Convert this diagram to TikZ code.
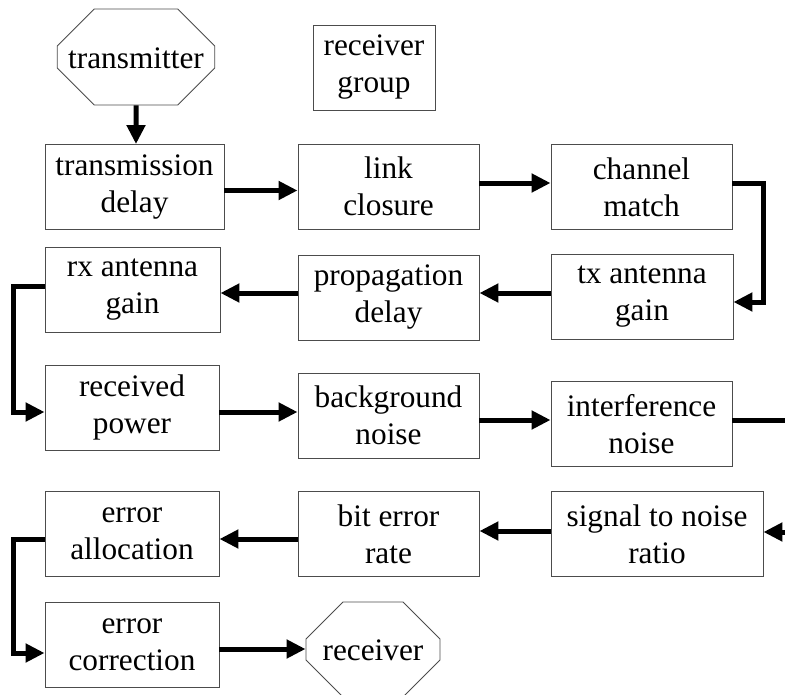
\documentclass[tikz,border=0pt]{standalone}
\usepackage{fontspec}
\setmainfont{Liberation Serif}
\usetikzlibrary{arrows.meta,shapes.misc}

\newcommand{\blockfont}{\fontsize{31.3}{37}\selectfont}

\tikzset{
  block/.style={draw=black!70, line width=0.9pt, rectangle, minimum height=85pt, inner sep=0pt,
    align=center, font=\blockfont},
  terminal/.style={draw=black!70, line width=0.9pt, chamfered rectangle,
    chamfered rectangle xsep=26pt, chamfered rectangle ysep=26pt, inner sep=0pt,
    text height=22pt, text depth=0pt, font=\blockfont},
  flow/.style={line width=5pt, -{Triangle[length=19pt,width=18pt]}},
}

\begin{document}
\begin{tikzpicture}[x=1pt,y=-1pt]
    \useasboundingbox (0,0) rectangle (785,694);
    % top row
    \node[terminal, minimum width=152pt, minimum height=96pt] (transmitter) at (136,57) {transmitter};
    \node[block, minimum width=122pt] (rxgroup) at (374,67.5) {receiver\\group};
    \node[block, minimum width=179pt] (txdelay) at (134.5,187) {transmission\\delay};
    \node[block, minimum width=181pt] (closure) at (388.5,186.5) {link\\closure};
    \node[block, minimum width=181pt] (chmatch) at (641.5,187) {channel\\match};
    % second row, right to left
    \node[block, minimum width=182pt] (txgain) at (642,297) {tx antenna\\gain};
    \node[block, minimum width=181pt] (propdelay) at (388.5,297.5) {propagation\\delay};
    \node[block, minimum width=175pt] (rxgain) at (132.5,289.5) {rx antenna\\gain};
    % third row
    \node[block, minimum width=174pt] (rxpower) at (132,407.5) {received\\power};
    \node[block, minimum width=181pt] (bgnoise) at (388.5,415.5) {background\\noise};
    \node[block, minimum width=181pt] (intnoise) at (641.5,424) {interference\\noise};
    % fourth row, right to left
    \node[block, minimum width=212pt] (snr) at (657,534) {signal to noise\\ratio};
    \node[block, minimum width=181pt] (ber) at (388.5,534) {bit error\\rate};
    \node[block, minimum width=174pt] (erralloc) at (132,534) {error\\allocation};
    % last row
    \node[block, minimum width=174pt] (errcorr) at (132,644.5) {error\\correction};
    \node[terminal, minimum width=134pt, minimum height=95pt] (receiver) at (373,649.5) {receiver};

    \coordinate (rbend) at (763,0);
    \coordinate (lbend) at (13,0);
    \coordinate (cutout) at (785,420);
    \coordinate (cutin) at (785,532);

    \draw[flow] (transmitter) -- (transmitter |- txdelay.north);
    \draw[flow] ([yshift=-3.5pt]txdelay.east) -- ([yshift=-3.5pt]txdelay.east -| closure.west);
    \draw[flow] ([yshift=3.5pt]closure.east) -- ([yshift=3.5pt]closure.east -| chmatch.west);
    \draw[flow] ([yshift=4pt]chmatch.east) -- ([yshift=4pt]chmatch.east -| rbend) |- ([yshift=-5pt]txgain.east);
    \draw[flow] ([yshift=4pt]txgain.west) -- ([yshift=4pt]txgain.west -| propdelay.east);
    \draw[flow] ([yshift=4.5pt]propdelay.west) -- ([yshift=4.5pt]propdelay.west -| rxgain.east);
    \draw[flow] ([yshift=3.5pt]rxgain.west) -- ([yshift=3.5pt]rxgain.west -| lbend) |- ([yshift=-4.5pt]rxpower.west);
    \draw[flow] ([yshift=-4.5pt]rxpower.east) -- ([yshift=-4.5pt]rxpower.east -| bgnoise.west);
    \draw[flow] ([yshift=-4.5pt]bgnoise.east) -- ([yshift=-4.5pt]bgnoise.east -| intnoise.west);
    \draw[line width=5pt] ([yshift=4pt]intnoise.east) -- (cutout);
    \draw[flow] (cutin) -- (cutin -| snr.east);
    \draw[flow] ([yshift=3pt]snr.west) -- ([yshift=3pt]snr.west -| ber.east);
    \draw[flow] ([yshift=-5pt]ber.west) -- ([yshift=-5pt]ber.west -| erralloc.east);
    \draw[flow] ([yshift=-5pt]erralloc.west) -- ([yshift=-5pt]erralloc.west -| lbend) |- ([yshift=-8.5pt]errcorr.west);
    \draw[flow] ([yshift=-4.5pt]errcorr.east) -- ([yshift=-4.5pt]errcorr.east -| receiver.west);
\end{tikzpicture}
\end{document}
